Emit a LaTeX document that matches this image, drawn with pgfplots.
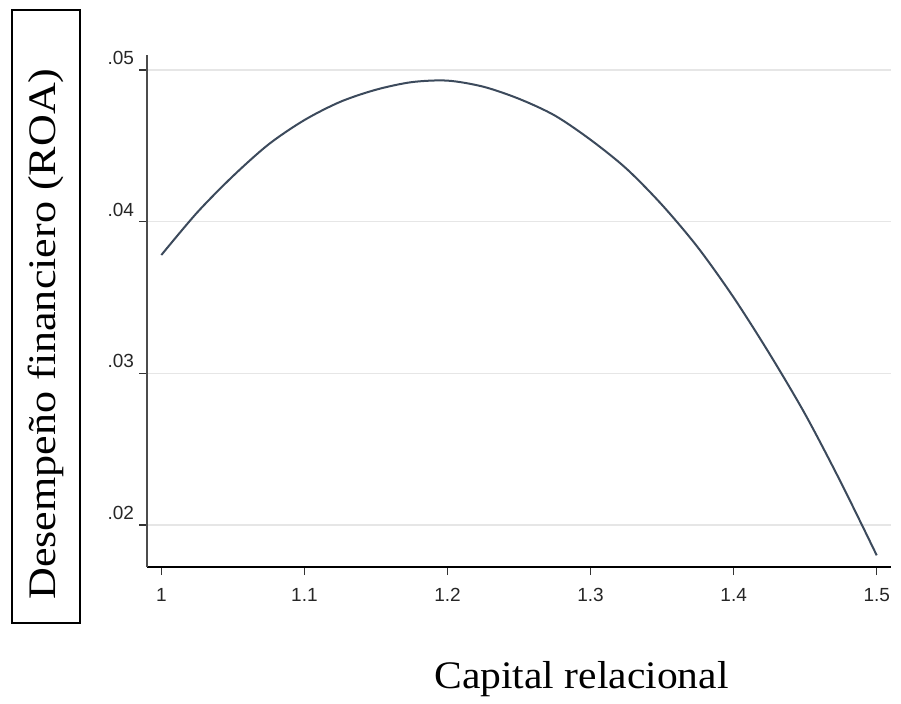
\documentclass[border=0pt]{standalone}
\usepackage{pgfplots}
\pgfplotsset{compat=1.18}
\usepackage{fontspec}
\setmainfont{Liberation Serif}
\newfontfamily\ticksans{Liberation Sans}
\newfontfamily\ylabfont[FakeStretch=1.13]{Liberation Serif}
\newfontfamily\xlabfont[FakeStretch=1.065]{Liberation Serif}
\definecolor{curve}{HTML}{3C4A5C}
\definecolor{gridc}{HTML}{E6E6E6}
\begin{document}
\begin{tikzpicture}
\begin{axis}[
  scale only axis,
  width=372pt, height=256pt,
  xmin=0.99, xmax=1.51,
  ymin=0.01723, ymax=0.05099,
  scaled y ticks=false, scaled x ticks=false,
  axis x line*=bottom, axis y line*=left,
  x axis line style={line width=1.3pt, black},
  y axis line style={line width=0.9pt, black!70},
  xtick={1,1.1,1.2,1.3,1.4,1.5},
  xticklabels={1,1.1,1.2,1.3,1.4,1.5},
  ytick={0.02,0.03,0.04,0.05},
  yticklabels={.02,.03,.04,.05},
  tick style={black!80, line width=0.6pt},
  major tick length=4pt,
  tick align=outside,
  ymajorgrids,
  grid style={gridc, line width=0.7pt},
  ticklabel style={font=\ticksans\fontsize{9.5}{11}\selectfont, black!85},
  yticklabel style={yshift=6pt, xshift=1pt},
  xticklabel style={yshift=-3pt},
  clip=false,
]
\addplot[curve, line width=1pt, smooth] coordinates {
(1.000,0.0378) (1.025,0.0406) (1.050,0.0430) (1.075,0.0451) (1.100,0.0467)
(1.125,0.0479) (1.150,0.0487) (1.175,0.0492) (1.200,0.0493) (1.225,0.0489)
(1.250,0.0481) (1.275,0.0470) (1.300,0.0454) (1.325,0.0435) (1.350,0.0411)
(1.375,0.0383) (1.400,0.0350) (1.425,0.0313) (1.450,0.0273) (1.475,0.0228)
(1.500,0.0180)
};
\path (rel axis cs:-0.1976,-0.2559) rectangle (rel axis cs:1.0134,1.1074);
\node[draw, line width=1pt, rotate=90, minimum width=306.5pt, minimum height=34pt, inner sep=0pt, outer sep=0pt]
  at ([xshift=-50.5pt, yshift=-2.75pt]rel axis cs:0,0.5) {};
\node[rotate=90, font=\ylabfont\fontsize{19.5}{22}\selectfont]
  at ([xshift=-50.5pt, yshift=-11.5pt]rel axis cs:0,0.5) {Desempeño financiero (ROA)};
\node[font=\xlabfont\fontsize{19.5}{22}\selectfont]
  at ([xshift=31.25pt, yshift=-56pt]rel axis cs:0.5,0) {Capital relacional};
\end{axis}
\end{tikzpicture}
\end{document}
